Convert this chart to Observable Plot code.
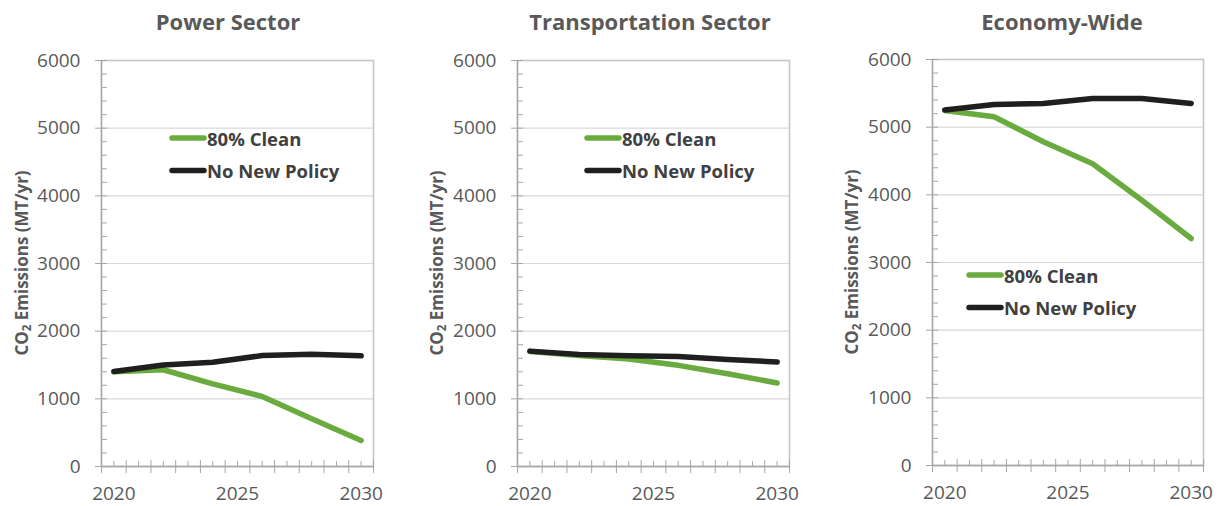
<!DOCTYPE html>
<html>
<head>
<meta charset="utf-8">
<script src="https://cdn.jsdelivr.net/npm/d3@7"></script>
<script src="https://cdn.jsdelivr.net/npm/@observablehq/plot@0.6"></script>
<style>
  body { margin: 0; background: #fff; }
  #wrap { position: relative; width: 1224px; height: 506px; overflow: hidden; }
  .panel { position: absolute; top: 0; }
</style>
</head>
<body>
<div id="wrap"></div>
<script>
// ---- data ----
const years = [2020, 2022, 2024, 2026, 2028, 2030];
const seriesNames = ["80% Clean", "No New Policy"];
const panelTitles = ["Power Sector", "Transportation Sector", "Economy-Wide"];
const powerClean = [1400, 1430, 1220, 1035, 705, 385];
const powerNoPolicy = [1405, 1500, 1540, 1640, 1660, 1635];
const transClean = [1700, 1640, 1590, 1495, 1370, 1235];
const transNoPolicy = [1705, 1655, 1635, 1625, 1580, 1545];
const econClean = [5245, 5155, 4785, 4460, 3920, 3355];
const econNoPolicy = [5255, 5335, 5350, 5425, 5425, 5350];
const yTickValues = [0, 1000, 2000, 3000, 4000, 5000, 6000];
const xTickLabels = [2020, 2025, 2030];
const yAxisLabel = ["CO", "2", " Emissions (MT/yr)"];

const panelSeries = [
  [powerClean, powerNoPolicy],
  [transClean, transNoPolicy],
  [econClean, econNoPolicy]
];

// ---- styles / layout ----
const colors = ["#6aab3f", "#1f1f1f"];
const layout = [
  {left: 0,   ml: 101, mr: 35, mt: 60, mb: 40, titleX: 228, ylabX: 21, legX: 172, legY: 138},
  {left: 408, ml: 109, mr: 27, mt: 60, mb: 40, titleX: 242, ylabX: 28, legX: 179, legY: 138},
  {left: 816, ml: 116, mr: 21, mt: 59, mb: 41, titleX: 246, ylabX: 35, legX: 153, legY: 275}
];
const W = 408, H = 506;
const FONT = "'Open Sans', sans-serif";
const wrap = document.getElementById("wrap");

const minorY = d3.range(0, 6001, 200).filter(v => v % 1000 !== 0);
const majorX = d3.range(2019.5, 2031, 1);
const minorX = d3.range(2020, 2031, 1);

panelSeries.forEach((pair, i) => {
  const L = layout[i];
  const pw = W - L.ml - L.mr;
  const ph = H - L.mt - L.mb;
  const rows = [];
  pair.forEach((vals, s) => {
    years.forEach((yr, k) => rows.push({year: yr, value: vals[k], series: seriesNames[s]}));
  });

  const plot = Plot.plot({
    width: W, height: H,
    marginLeft: L.ml, marginRight: L.mr, marginTop: L.mt, marginBottom: L.mb,
    style: {fontFamily: FONT, fontSize: "19px", color: "#595959", background: "#fff"},
    x: {domain: [2019.5, 2030.5]},
    y: {domain: [0, 6000]},
    color: {domain: seriesNames, range: colors},
    marks: [
      Plot.gridY(yTickValues, {stroke: "#d9d9d9", strokeOpacity: 1, strokeWidth: 1.2}),
      Plot.frame({stroke: "#c6c6c6", strokeWidth: 1.6}),
      Plot.ruleY(minorY, {stroke: "#a6a6a6", insetRight: pw - 6}),
      Plot.ruleY(yTickValues, {stroke: "#a6a6a6", insetLeft: -6, insetRight: pw - 6}),
      Plot.ruleX(minorX, {stroke: "#a6a6a6", insetTop: ph - 5}),
      Plot.ruleX(majorX, {stroke: "#a6a6a6", insetTop: ph - 6, insetBottom: -7}),
      Plot.ruleX([2019.5], {stroke: "#a6a6a6", strokeWidth: 1.3}),
      Plot.ruleY([0], {stroke: "#a6a6a6", strokeWidth: 1.3}),
      Plot.axisY({ticks: yTickValues, tickSize: 0, tickPadding: 21, label: null, tickFormat: d => String(d)}),
      Plot.axisX({ticks: xTickLabels, tickSize: 0, tickPadding: 20, label: null, tickFormat: d => String(d)}),
      Plot.line(rows, {x: "year", y: "value", z: "series", stroke: "series",
        strokeWidth: 5.5, strokeLinecap: "round", strokeLinejoin: "round"})
    ]
  });

  const svg = d3.select(plot);
  // title
  svg.append("text")
    .attr("x", L.titleX).attr("y", 30)
    .attr("text-anchor", "middle")
    .attr("font-family", FONT)
    .attr("font-weight", "bold").attr("font-size", 22)
    .attr("fill", "#595959")
    .text(panelTitles[i]);
  // y label
  const yl = svg.append("text")
    .attr("transform", `translate(${L.ylabX},${L.mt + ph / 2}) rotate(-90)`)
    .attr("text-anchor", "middle")
    .attr("dominant-baseline", "central")
    .attr("font-family", FONT)
    .attr("font-weight", "bold").attr("font-size", 17)
    .attr("fill", "#595959");
  yl.append("tspan").text(yAxisLabel[0]);
  yl.append("tspan").attr("font-size", 11.5).attr("dy", 5).text(yAxisLabel[1]);
  yl.append("tspan").attr("dy", -5).text(yAxisLabel[2]);
  // legend
  seriesNames.forEach((name, s) => {
    const yy = L.legY + s * 32.5;
    svg.append("line")
      .attr("x1", L.legX).attr("x2", L.legX + 32)
      .attr("y1", yy).attr("y2", yy)
      .attr("stroke", colors[s]).attr("stroke-width", 5.5)
      .attr("stroke-linecap", "round");
    svg.append("text")
      .attr("x", L.legX + 35).attr("y", yy)
      .attr("text-anchor", "start")
      .attr("dominant-baseline", "central")
      .attr("font-family", FONT)
      .attr("font-weight", "bold").attr("font-size", 18.5)
      .attr("fill", "#404040")
      .text(name);
  });

  const div = document.createElement("div");
  div.className = "panel";
  div.style.left = L.left + "px";
  div.appendChild(plot);
  wrap.appendChild(div);
});
</script>
</body>
</html>
